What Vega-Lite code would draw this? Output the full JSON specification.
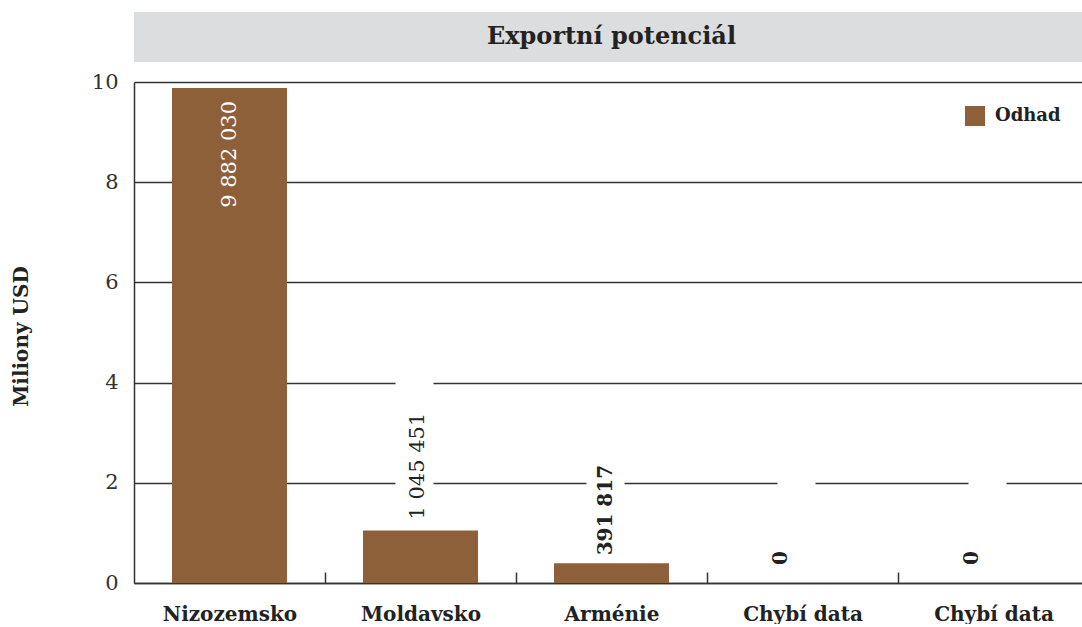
{
  "$schema": "https://vega.github.io/schema/vega-lite/v6.json",
  "padding": {"left": 11, "top": 12, "right": 0, "bottom": 0},
  "background": "white",
  "bounds": "flush",
  "config": {"font": "DejaVu Serif", "view": {"stroke": null}, "concat": {"spacing": 20}},
  "datasets": {
    "exports": [
      {"country": "Nizozemsko", "value": 9.88203, "label": "9 882 030", "series": "Odhad"},
      {"country": "Moldavsko", "value": 1.045451, "label": "1 045 451", "series": "Odhad"},
      {"country": "Arménie", "value": 0.391817, "label": "391 817", "series": "Odhad"},
      {"country": "Chybí data", "value": 0, "label": "0", "series": "Odhad"},
      {"country": "Chybí data\u200b", "value": 0, "label": "0", "series": "Odhad"}
    ]
  },
  "vconcat": [
    {
      "width": 955,
      "height": 50,
      "view": {"fill": "#DCDDDF", "stroke": null},
      "data": {"values": [{"title": "Exportní potenciál"}]},
      "mark": {"type": "text", "fontSize": 24, "fontWeight": "bold", "color": "#222222", "baseline": "middle", "align": "center"},
      "encoding": {"text": {"field": "title"}}
    },
    {
      "width": 955,
      "height": 501,
      "data": {"name": "exports"},
      "encoding": {
        "x": {
          "field": "country", "type": "nominal", "sort": null,
          "scale": {"paddingInner": 0.398, "paddingOuter": 0.199},
          "axis": {
            "title": null, "labelAngle": 0, "labelFontSize": 20, "labelFontWeight": "bold", "labelColor": "#222222",
            "domainColor": "#333333", "domainWidth": 1.5, "bandPosition": 1, "tickOffset": 38, "labelOffset": -38, "tickSize": -11,
            "tickColor": "#333333", "tickWidth": 1.5, "labelPadding": 32
          }
        },
        "y": {
          "field": "value", "type": "quantitative",
          "scale": {"domain": [0, 10]},
          "axis": {
            "title": "Miliony USD", "values": [0, 2, 4, 6, 8, 10], "grid": true, "gridColor": "#333333", "gridWidth": 1.3,
            "domainColor": "#333333", "domainWidth": 1.5, "ticks": false, "labelPadding": 16, "labelFontSize": 21,
            "labelColor": "#333333", "titleFontSize": 20, "titleFontWeight": "bold", "titleColor": "#222222",
            "titleX": -103, "titleY": 254
          }
        }
      },
      "layer": [
        {
          "mark": {"type": "bar"},
          "encoding": {
            "color": {
              "field": "series", "type": "nominal",
              "scale": {"domain": ["Odhad"], "range": ["#8E603A"]},
              "legend": {
                "title": null, "orient": "none", "legendX": 831, "legendY": 94, "padding": 0, "symbolType": "square", "symbolSize": 400,
                "symbolStrokeWidth": 0, "labelFontSize": 18, "labelFontWeight": "bold", "labelColor": "#222222", "labelOffset": 10
              }
            }
          }
        },
        {
          "transform": [{"filter": "datum.value <= 5"}],
          "mark": {"type": "bar", "color": "white", "width": 38, "xOffset": -6, "yOffset": -155, "y2Offset": -8},
          "encoding": {"y2": {"field": "value"}}
        },
        {
          "transform": [{"filter": "datum.value > 5"}],
          "mark": {"type": "text", "angle": 270, "align": "right", "baseline": "middle", "dx": -13, "color": "white", "fontSize": 21},
          "encoding": {"text": {"field": "label"}}
        },
        {
          "transform": [{"filter": "datum.value > 0.5 && datum.value <= 5"}],
          "mark": {"type": "text", "angle": 270, "align": "left", "baseline": "middle", "dx": 11, "xOffset": -3, "color": "#222222", "fontSize": 21},
          "encoding": {"text": {"field": "label"}}
        },
        {
          "transform": [{"filter": "datum.value > 0 && datum.value <= 0.5"}],
          "mark": {"type": "text", "angle": 270, "align": "left", "baseline": "middle", "dx": 8, "xOffset": -6, "color": "#222222", "fontSize": 20, "fontWeight": "bold"},
          "encoding": {"text": {"field": "label"}}
        },
        {
          "transform": [{"filter": "datum.value == 0"}],
          "mark": {"type": "text", "angle": 270, "align": "left", "baseline": "middle", "dx": 18, "xOffset": -22, "color": "#222222", "fontSize": 20, "fontWeight": "bold"},
          "encoding": {"text": {"field": "label"}}
        }
      ]
    }
  ]
}
